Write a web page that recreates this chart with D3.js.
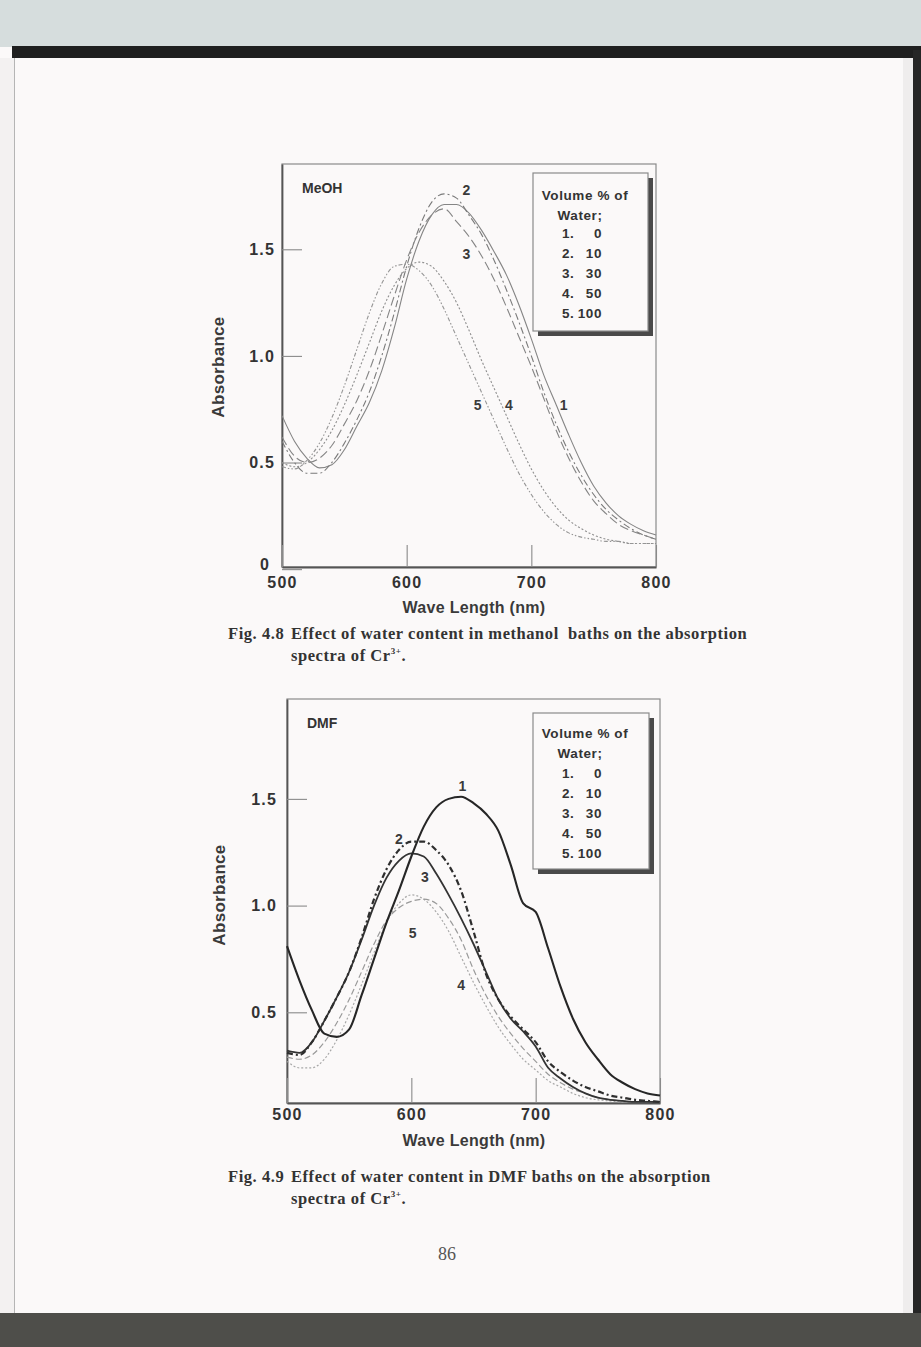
<!DOCTYPE html>
<html>
<head>
	<meta charset="utf-8">
	<title>Absorption spectra of Cr3+</title>
	<script src="https://d3js.org/d3.v7.min.js"></script>
	<style>
		body { margin: 0; background: #fbf9f9; }
		text { font-family: "Liberation Sans", Arial, sans-serif; }
		.serif { font-family: "Liberation Serif", "Times New Roman", serif; }
	</style>
</head>
<body>
<div id="viz"></div>
<script>

// wavelength grid (nm)
var wavelength = [500,510,520,530,540,550,560,570,580,590,600,610,620,630,640,650,660,670,680,690,700,710,720,730,740,750,760,770,780,790,800];

// Fig 4.8 - methanol baths, absorbance
var meoh1 = [0.72,0.60,0.52,0.475,0.49,0.56,0.67,0.78,0.93,1.13,1.36,1.54,1.66,1.71,1.71,1.67,1.59,1.49,1.38,1.24,1.08,0.91,0.77,0.63,0.50,0.39,0.31,0.25,0.21,0.18,0.16];
var meoh2 = [0.60,0.50,0.45,0.45,0.50,0.59,0.70,0.83,1.00,1.20,1.42,1.60,1.72,1.76,1.74,1.66,1.57,1.45,1.31,1.16,1.00,0.83,0.68,0.55,0.44,0.35,0.28,0.23,0.19,0.16,0.14];
var meoh3 = [0.62,0.53,0.50,0.52,0.58,0.68,0.79,0.93,1.10,1.28,1.45,1.58,1.66,1.69,1.63,1.56,1.47,1.36,1.23,1.09,0.95,0.80,0.65,0.52,0.41,0.32,0.26,0.21,0.18,0.16,0.14];
var meoh4 = [0.50,0.48,0.50,0.56,0.65,0.77,0.91,1.06,1.21,1.33,1.41,1.44,1.42,1.35,1.25,1.12,0.98,0.85,0.72,0.59,0.47,0.37,0.29,0.23,0.19,0.16,0.14,0.13,0.12,0.12,0.12];
var meoh5 = [0.48,0.47,0.51,0.59,0.71,0.86,1.03,1.20,1.34,1.42,1.43,1.40,1.33,1.22,1.09,0.96,0.83,0.70,0.57,0.45,0.35,0.27,0.21,0.17,0.15,0.14,0.13,0.13,0.12,0.12,0.12];

// Fig 4.9 - DMF baths
var dmf1 = [0.81,0.65,0.51,0.40,0.385,0.42,0.58,0.75,0.92,1.07,1.23,1.37,1.46,1.50,1.51,1.48,1.43,1.35,1.19,1.01,0.97,0.80,0.62,0.47,0.36,0.28,0.21,0.17,0.14,0.12,0.11];
var dmf2 = [0.31,0.30,0.36,0.46,0.57,0.69,0.85,1.03,1.17,1.26,1.30,1.30,1.26,1.19,1.07,0.88,0.68,0.56,0.48,0.42,0.36,0.27,0.22,0.18,0.15,0.13,0.11,0.10,0.09,0.085,0.08];
var dmf3 = [0.32,0.31,0.36,0.46,0.57,0.69,0.84,1.00,1.13,1.21,1.245,1.23,1.15,1.05,0.94,0.82,0.69,0.56,0.47,0.41,0.34,0.24,0.19,0.15,0.12,0.10,0.09,0.085,0.08,0.08,0.08];
var dmf4 = [0.29,0.28,0.30,0.36,0.45,0.56,0.69,0.82,0.93,0.99,1.02,1.03,1.01,0.94,0.84,0.70,0.58,0.48,0.40,0.33,0.27,0.21,0.17,0.14,0.12,0.10,0.09,0.085,0.08,0.08,0.08];
var dmf5 = [0.27,0.24,0.24,0.28,0.37,0.49,0.63,0.78,0.92,1.01,1.05,1.03,0.97,0.88,0.76,0.64,0.53,0.43,0.35,0.28,0.23,0.18,0.15,0.12,0.10,0.09,0.085,0.08,0.08,0.08,0.08];

// legend / tick labels
var legendTitle = ["Volume % of", "Water;"];
var curveNo = ["1.", "2.", "3.", "4.", "5."];
var waterPct = ["0", "10", "30", "50", "100"];
var xTicks = [500, 600, 700, 800];

// curve number labels, placed in data units [wavelength, absorbance]
var meohLabels = [["1",726,0.77],["2",648,1.78],["3",648,1.48],["4",682,0.77],["5",657,0.77]];
var dmfLabels  = [["1",641,1.56],["2",590,1.31],["3",611,1.135],["4",640,0.63],["5",601,0.87]];

var svg = d3.select("#viz")
	.append("svg")
		.attr("width", 921)
		.attr("height", 1347);

// scanned page backdrop
svg.append("rect").attr("width", 921).attr("height", 1347).attr("fill", "#fbf9f9");
svg.append("rect").attr("width", 921).attr("height", 47).attr("fill", "#d6dddd");
svg.append("rect").attr("x", 12).attr("y", 46).attr("width", 909).attr("height", 12).attr("fill", "#1f1f1f");
svg.append("rect").attr("x", 0).attr("y", 58).attr("width", 14).attr("height", 1255).attr("fill", "#f3f1f1");
svg.append("line").attr("x1", 14.5).attr("x2", 14.5).attr("y1", 58).attr("y2", 1313).attr("stroke", "#b5b5b5");
svg.append("rect").attr("x", 903).attr("y", 58).attr("width", 10).attr("height", 1255).attr("fill", "#efeded");
svg.append("rect").attr("x", 913).attr("y", 50).attr("width", 8).attr("height", 1268).attr("fill", "#262626");
svg.append("rect").attr("x", 0).attr("y", 1313).attr("width", 921).attr("height", 34).attr("fill", "#4e4e4a");

function panel(opt) {
	var x = d3.scaleLinear().domain([500, 800]).range([opt.left, opt.right]);
	var y = d3.scaleLinear().domain(opt.yDomain).range([opt.bottom, opt.top]);
	var g = svg.append("g");

	// frame
	g.append("rect")
		.attr("x", opt.left).attr("y", opt.top)
		.attr("width", opt.right - opt.left).attr("height", opt.bottom - opt.top)
		.attr("fill", "none").attr("stroke", "#8a8a8a").attr("stroke-width", 1.2);

	// Y axis, ticks point inwards
	var ya = g.append("g")
		.attr("transform", "translate(" + opt.left + ",0)")
		.call(d3.axisLeft(y).tickValues(opt.yTicks).tickSize(-20).tickSizeOuter(0).tickPadding(opt.yPad)
			.tickFormat(function(d) { return d === 0 ? "0" : d3.format(".1f")(d); }));
	// X axis
	var xa = g.append("g")
		.attr("transform", "translate(0," + opt.bottom + ")")
		.call(d3.axisBottom(x).tickValues(xTicks).tickSize(-opt.xTickLen).tickSizeOuter(0).tickPadding(opt.xPad));

	[ya, xa].forEach(function(a) {
		a.select(".domain").attr("stroke", "#555").attr("stroke-width", 1.8);
		a.selectAll(".tick line").attr("stroke", "#8a8a8a").attr("stroke-width", 1.1);
		a.selectAll(".tick text")
			.attr("fill", "#333")
			.style("font-family", "'Liberation Sans', Arial, sans-serif")
			.style("font-size", "16px")
			.style("font-weight", "bold")
			.style("letter-spacing", "1.2px");
	});
	// the "0" sits a little up and left of the corner, clear of "500"
	ya.selectAll(".tick text").filter(function(d) { return d === 0; })
		.attr("x", -12).attr("dy", "0.02em");

	// spectra
	var line = d3.line()
		.x(function(d, i) { return x(wavelength[i]); })
		.y(function(d) { return y(d); })
		.curve(d3.curveMonotoneX);

	opt.series.forEach(function(s) {
		g.append("path")
			.datum(s.values)
			.attr("fill", "none")
			.attr("stroke", s.color)
			.attr("stroke-width", s.width)
			.attr("stroke-dasharray", s.dash)
			.attr("stroke-linejoin", "round")
			.attr("d", line);
	});

	// curve numbers
	g.selectAll(".lbl")
		.data(opt.labels)
		.enter().append("text")
			.attr("x", function(d) { return x(d[1]); })
			.attr("y", function(d) { return y(d[2]); })
			.attr("dy", "0.36em")
			.attr("text-anchor", "middle")
			.attr("fill", "#3a3a3a")
			.style("font-size", "14px")
			.style("font-weight", "bold")
			.text(function(d) { return d[0]; });

	// solvent name
	g.append("text")
		.attr("x", opt.left + 20).attr("y", opt.top + 29)
		.attr("fill", "#333")
		.style("font-size", "14px").style("font-weight", "bold")
		.text(opt.solvent);

	// legend box with drop shadow
	var L = opt.legend;
	g.append("rect").attr("x", L.x + 5).attr("y", L.y + 5).attr("width", L.w).attr("height", L.h).attr("fill", "#4a4a4a");
	g.append("rect").attr("x", L.x).attr("y", L.y).attr("width", L.w).attr("height", L.h)
		.attr("fill", "#fbf9f9").attr("stroke", "#8a8a8a").attr("stroke-width", 1.2);

	g.selectAll(".lt")
		.data(legendTitle)
		.enter().append("text")
			.attr("x", function(d, i) { return L.x + (i === 0 ? 52 : 47); })
			.attr("y", function(d, i) { return L.y + L.titleY + i * 20; })
			.attr("text-anchor", "middle")
			.attr("fill", "#333")
			.style("font-size", "13.5px").style("font-weight", "bold").style("letter-spacing", "0.6px")
			.text(function(d) { return d; });

	curveNo.forEach(function(n, i) {
		g.append("text")
			.attr("x", L.x + 29).attr("y", L.y + 65 + i * 20)
			.attr("fill", "#333")
			.style("font-size", "13.5px").style("font-weight", "bold").style("letter-spacing", "0.6px")
			.text(n);
		g.append("text")
			.attr("x", L.x + 69).attr("y", L.y + 65 + i * 20)
			.attr("text-anchor", "end")
			.attr("fill", "#333")
			.style("font-size", "13.5px").style("font-weight", "bold").style("letter-spacing", "0.6px")
			.text(waterPct[i]);
	});

	// axis titles
	g.append("text")
		.attr("transform", "translate(" + opt.yTitle[0] + "," + opt.yTitle[1] + ") rotate(-90)")
		.attr("text-anchor", "middle")
		.attr("fill", "#3a3a3a")
		.style("font-size", "17px").style("font-weight", "bold").style("letter-spacing", "0.3px")
		.text("Absorbance");

	g.append("text")
		.attr("x", 474).attr("y", opt.xTitleY)
		.attr("text-anchor", "middle")
		.attr("fill", "#3a3a3a")
		.style("font-size", "16px").style("font-weight", "bold").style("letter-spacing", "0.3px")
		.text("Wave Length (nm)");

	// figure caption: number, then the text aligned on a tab stop
	var capStyle = function(t) {
		return t.attr("class", "serif").attr("fill", "#333")
			.style("font-size", "16.5px").style("font-weight", "bold").style("letter-spacing", "0.55px");
	};
	capStyle(g.append("text").attr("x", 228).attr("y", opt.capY)).text(opt.capNo);
	capStyle(g.append("text").attr("x", 291).attr("y", opt.capY).style("white-space", "pre")).text(opt.caption);
	var cap2 = capStyle(g.append("text").attr("x", 291).attr("y", opt.capY + 22));
	cap2.append("tspan").text("spectra of Cr");
	cap2.append("tspan").attr("dy", -7).style("font-size", "9px").text("3+");
	cap2.append("tspan").attr("dy", 7).text(".");
}

// Fig. 4.8
panel({
	left: 282, right: 656, top: 164, bottom: 567,
	yDomain: [0.01, 1.9], yTicks: [0, 0.5, 1.0, 1.5], yPad: 7,
	xTickLen: 22, xPad: 10,
	solvent: "MeOH",
	labels: meohLabels,
	legend: {x: 533, y: 173, w: 115, h: 158, titleY: 27},
	yTitle: [224, 367], xTitleY: 613,
	capNo: "Fig. 4.8",
	caption: "Effect of water content in methanol  baths on the absorption",
	capY: 639,
	series: [
		{values: meoh1, color: "#858585", width: 1.1, dash: null},
		{values: meoh2, color: "#7a7a7a", width: 1.1, dash: "7,3,2,3"},
		{values: meoh3, color: "#858585", width: 1.1, dash: "9,4"},
		{values: meoh4, color: "#8e8e8e", width: 1.1, dash: "2,2"},
		{values: meoh5, color: "#959595", width: 1.1, dash: "4,2,1.5,2,1.5,2"}
	]
});

// Fig. 4.9
panel({
	left: 287, right: 660, top: 699, bottom: 1103,
	yDomain: [0.075, 1.968], yTicks: [0.5, 1.0, 1.5], yPad: 10,
	xTickLen: 25, xPad: 6,
	solvent: "DMF",
	labels: dmfLabels,
	legend: {x: 533, y: 713, w: 116, h: 156, titleY: 25},
	yTitle: [225, 895], xTitleY: 1146,
	capNo: "Fig. 4.9",
	caption: "Effect of water content in DMF baths on the absorption",
	capY: 1182,
	series: [
		{values: dmf5, color: "#a8a8a8", width: 1.2, dash: "2,2"},
		{values: dmf4, color: "#9a9a9a", width: 1.2, dash: "6,3"},
		{values: dmf3, color: "#333", width: 1.8, dash: null},
		{values: dmf2, color: "#2e2e2e", width: 2.2, dash: "6,3,2,3"},
		{values: dmf1, color: "#262626", width: 2.1, dash: null}
	]
});

// page number
svg.append("text").attr("class", "serif")
	.attr("x", 447).attr("y", 1260)
	.attr("text-anchor", "middle")
	.attr("fill", "#555")
	.style("font-size", "18px")
	.text("86");

</script>
</body>
</html>
